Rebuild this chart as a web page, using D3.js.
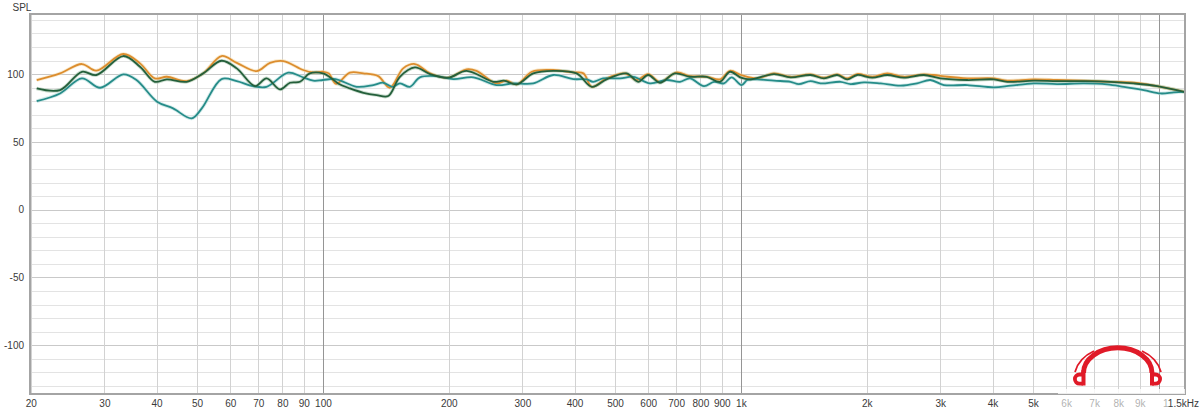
<!DOCTYPE html>
<html>
<head>
<meta charset="utf-8">
<script src="https://cdn.jsdelivr.net/npm/d3@7"></script>
<style>
  html, body { margin: 0; padding: 0; background: #ffffff; }
  svg { display: block; }
  text { font-family: "Liberation Sans", Arial, sans-serif; }
</style>
</head>
<body>
<svg id="chart" width="1200" height="412"></svg>
<script>
// ---- Data ----
const orangeFreq = [20.66,23.5,26.5,28.7,33.3,36.5,39.6,42.3,47.2,51.7,57.2,62.2,69.4,74.7,80.4,89.7,94.8,100,103.3,107.5,116,124.9,135.6,144.6,155.6,166,180.4,199.4,220.6,233,260,275,291,316,355.6,397,420,440,477,528,563,600,640,702,755,828,891,942,1000,1094,1200,1315,1468,1580,1700,1797,1898,2063,2240,2455,2740,2895,3117,3480,4030,4340,5020,5710,6620,7660,8710,9910,11500];
const orangeSpl  = [95.6,100.5,107.4,102.5,114.8,107.9,96.8,98,94.8,100.5,113.3,108.3,102.2,108.3,109.6,103,101.2,101.7,100.5,92.8,101,100.5,98.5,89.9,104.2,107.4,100.5,97.3,103.5,102.4,93.1,95.1,92.4,101.7,103,101.2,100.5,90.6,96.8,100.5,95.6,100,94.3,101.2,98.5,98,96.1,102.4,99.3,96.8,100.5,98,99.8,97.3,99.8,96.8,100,98,100.5,98,99.8,99.3,98,96.8,96.8,95.1,96.1,95.6,95.1,94.3,93.6,91.1,86.9];

const greenFreq = [20.66,23.5,26.5,28.7,33.3,36.5,39.6,42.3,47.2,51.7,57.2,62.2,68.8,73.3,78.9,83.4,88.1,93,100,105.7,109,116,125,134.4,143.3,152.8,166,180.4,199.4,220.6,255.8,271,291,318.6,355.6,404.6,440,477,533,568,600,640,695,755,828,891,942,1000,1055,1200,1315,1468,1580,1700,1797,1898,2063,2240,2455,2740,3000,3480,4030,4340,5020,5710,6620,7660,8710,9910,11500];
const greenSpl  = [89.4,88.2,101.7,99.3,113.3,105.4,94.3,96.1,94.3,100.5,109.8,104.2,91.1,96.8,88.7,93.6,94.3,100.5,100.5,96,92.8,89.4,86.2,84.5,83.8,98,104.9,100,97.3,102.4,94.3,95.1,92.4,100.5,102.4,100.5,90.6,96.1,100.5,94.3,99.3,93.6,100.5,98,98,94.3,101.7,97.3,96.1,100,97.6,99.3,96.8,99.3,96.1,99.3,97.3,99.3,97.3,99.3,96.8,95.6,96.1,94.3,95.1,94.8,94.8,94.3,93.1,91.1,86.9];

const tealFreq = [20.66,23.5,26.5,29.3,33.3,35.8,40.1,43.8,48.5,51.3,57.2,62.2,68.1,73.3,82.6,88.9,94.8,100,107.2,120.4,132,139.4,146.4,152.8,161.5,170.6,187,205,229,260,285,318.6,355.6,397,428,443,468,514,553,606,664,715,755,816,862,911,950,1004,1036,1094,1200,1315,1376,1468,1550,1732,1830,1970,2160,2410,2640,2840,3060,3480,4030,4420,5020,5710,6620,7520,8250,9200,10100,10860,11500];
const tealSpl  = [80,85.7,96.8,89.9,99.8,95.6,79.6,74.7,67.3,74.7,96.3,94.8,91.1,90.6,101,98,95.1,95.6,96.3,90.6,91.9,93.6,90.6,93.1,90.6,97.6,98.5,96.3,97.6,91.9,93.1,93.1,99.3,96.3,96.1,94.3,96.8,96.8,98,93.1,95.6,94.3,96.8,91.1,94.3,93.1,97.6,91.9,95.6,96.1,95.1,94.3,92.6,94.8,93.1,94.3,92.6,93.9,93.1,91.4,93.1,95.6,91.9,91.9,90.2,91.4,93.1,92.6,93.1,92.4,90.6,88.2,85.7,86.5,86.9];

const xTickValues = [20,30,40,50,60,70,80,90,100,200,300,400,500,600,700,800,900,1000,2000,3000,4000,5000,6000,7000,8000,9000,10000];
const xTickLabels = ["20","30","40","50","60","70","80","90","100","200","300","400","500","600","700","800","900","1k","2k","3k","4k","5k","6k","7k","8k","9k",""];
const xEndLabel = "11.5kHz";
const yTickValues = [100,50,0,-50,-100];
const yTickLabels = ["100","50","0","-50","-100"];
const yAxisTitle = "SPL";

// ---- Layout ----
const svg = d3.select("#chart");
const L = 30, R = 1185, T = 14, B = 394;
const x = d3.scaleLog().domain([20, 11550]).range([30.8, R]);
const y = d3.scaleLinear().domain([-136, 144.3]).range([B, T]);

svg.append("rect").attr("x", L).attr("y", T).attr("width", R - L).attr("height", B - T).attr("fill", "#ffffff");

const grid = svg.append("g");
const hLines = d3.range(-130, 141, 10);
grid.selectAll("line.h").data(hLines).join("line")
  .attr("x1", L).attr("x2", R)
  .attr("y1", d => Math.round(y(d)) + 0.5).attr("y2", d => Math.round(y(d)) + 0.5)
  .attr("stroke", d => d % 50 === 0 ? "#c9c9c9" : "#e3e3e3")
  .attr("stroke-width", 1);
grid.selectAll("line.v").data(xTickValues).join("line")
  .attr("x1", d => Math.round(x(d)) + 0.5).attr("x2", d => Math.round(x(d)) + 0.5)
  .attr("y1", T).attr("y2", B)
  .attr("stroke", d => (d === 100 || d === 1000 || d === 10000) ? "#959595" : "#d2d2d2")
  .attr("stroke-width", 1);

// ---- Curves ----
const line = d3.line()
  .x(d => x(d[0])).y(d => y(d[1]))
  .curve(d3.curveCatmullRom.alpha(0.5));

const series = [
  { f: orangeFreq, v: orangeSpl, color: "#dc8d2e", halo: "#f5dcae" },
  { f: tealFreq,   v: tealSpl,   color: "#268c89", halo: "#b4dcda" },
  { f: greenFreq,  v: greenSpl,  color: "#245f3b", halo: "#a6c4ae" }
];
const gLines = svg.append("g");
series.forEach(s => {
  const pts = s.f.map((f, i) => [f, s.v[i]]);
  gLines.append("path").attr("d", line(pts))
    .attr("fill", "none").attr("stroke", s.halo).attr("stroke-width", 3.6)
    .attr("stroke-linejoin", "round").attr("opacity", 0.6);
});
series.forEach(s => {
  const pts = s.f.map((f, i) => [f, s.v[i]]);
  gLines.append("path").attr("d", line(pts))
    .attr("fill", "none").attr("stroke", s.color).attr("stroke-width", 1.8)
    .attr("stroke-linejoin", "round");
});

// ---- Border ----
svg.append("rect").attr("x", L).attr("y", T).attr("width", R - L).attr("height", B - T)
  .attr("fill", "none").attr("stroke", "#a4a4a4").attr("stroke-width", 2);

// ---- Axes labels ----
const xAxis = d3.axisBottom(x).tickValues(xTickValues)
  .tickFormat((d, i) => xTickLabels[i]).tickSize(0).tickPadding(0);
const gx = svg.append("g").attr("transform", `translate(0,${B})`).call(xAxis);
gx.select(".domain").remove();
gx.selectAll("text").attr("y", 13).attr("dy", 0)
  .attr("font-size", 10).attr("fill", "#3a3a3a")
  .attr("font-family", "'Liberation Sans', Arial, sans-serif");
svg.append("text").attr("x", 1163).attr("y", 407).attr("font-size", 10)
  .attr("fill", "#3a3a3a").text(xEndLabel);

const yAxis = d3.axisLeft(y).tickValues(yTickValues)
  .tickFormat((d, i) => yTickLabels[i]).tickSize(0).tickPadding(0);
const gy = svg.append("g").attr("transform", `translate(24,0)`).call(yAxis);
gy.select(".domain").remove();
gy.selectAll("text").attr("font-size", 10).attr("fill", "#3a3a3a")
  .attr("font-family", "'Liberation Sans', Arial, sans-serif");

svg.append("text").attr("x", 12.5).attr("y", 10.5).attr("font-size", 10)
  .attr("fill", "#3a3a3a").text(yAxisTitle);

// ---- Watermark ----
const wm = svg.append("g");
wm.append("rect").attr("x", 1058).attr("y", 389).attr("width", 127).attr("height", 5)
  .attr("fill", "#ffffff").attr("opacity", 0.8);
wm.append("rect").attr("x", 1058).attr("y", 396).attr("width", 110).attr("height", 14)
  .attr("fill", "#ffffff").attr("opacity", 0.6);
const red = "#e01a28";
wm.append("path").attr("d", "M1083.5,373 A34,25 0 0 1 1152,373")
  .attr("fill", "none").attr("stroke", red).attr("stroke-width", 5);
wm.append("path").attr("d", "M1075,372 A40,32 0 0 1 1094,351")
  .attr("fill", "none").attr("stroke", red).attr("stroke-width", 1.8);
wm.append("path").attr("d", "M1161,372 A40,32 0 0 0 1142,351")
  .attr("fill", "none").attr("stroke", red).attr("stroke-width", 1.8);
wm.append("rect").attr("x", 1081.5).attr("y", 370).attr("width", 4).attr("height", 15.5).attr("fill", red);
wm.append("path").attr("d", "M1083,374.5 H1079.5 A4.6,4.6 0 0 0 1079.5,383.7 H1083")
  .attr("fill", "none").attr("stroke", red).attr("stroke-width", 3.8);
wm.append("rect").attr("x", 1150).attr("y", 370).attr("width", 4).attr("height", 15.5).attr("fill", red);
wm.append("path").attr("d", "M1152,374.5 H1155.5 A4.6,4.6 0 0 1 1155.5,383.7 H1152")
  .attr("fill", "none").attr("stroke", red).attr("stroke-width", 3.8);
</script>
</body>
</html>
